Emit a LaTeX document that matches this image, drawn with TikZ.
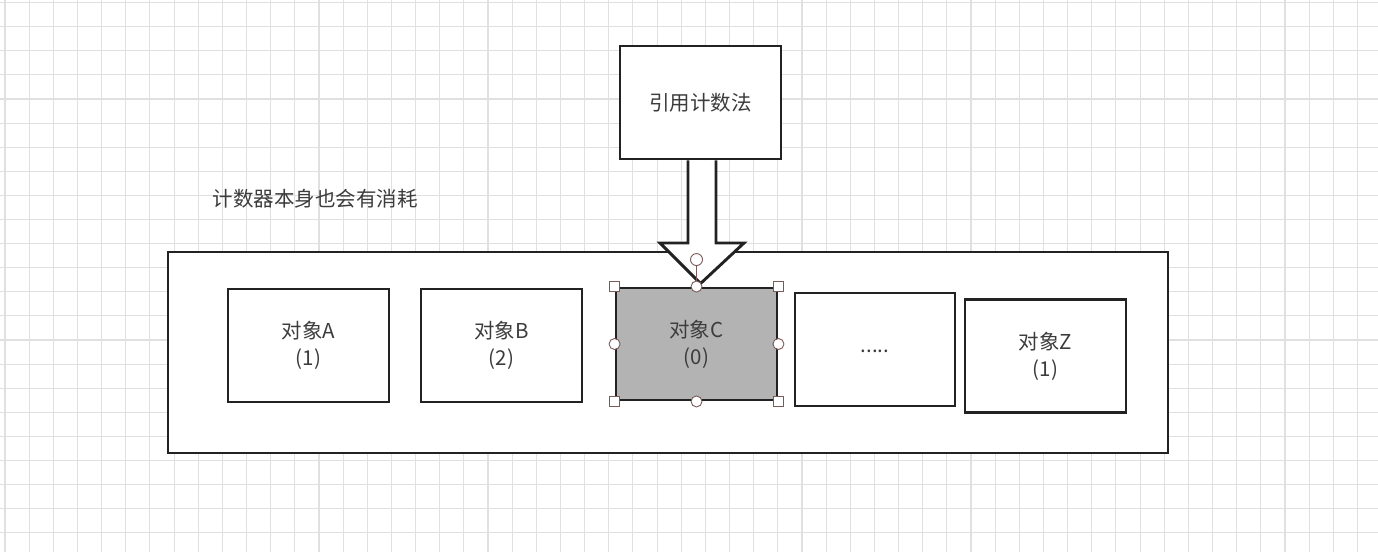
\documentclass[tikz,border=0pt]{standalone}
\usepackage{fontspec}
\setmainfont{Noto Sans CJK SC}
\usetikzlibrary{calc}
\definecolor{gridc}{HTML}{E0E0E0}
\definecolor{txt}{HTML}{3C3C3C}
\definecolor{edge}{HTML}{222222}
\definecolor{selfill}{HTML}{B3B3B3}
\definecolor{handle}{HTML}{7A5A5A}
\tikzset{
  box/.style={draw=edge, line width=2.9pt, fill=white, rectangle, inner sep=0pt,
    minimum width=161pt, minimum height=113pt, font=\fontsize{20.5}{27}\selectfont,
    text=txt, align=center},
  lbl/.style={font=\fontsize{20.5}{27}\selectfont, text=txt},
  sqh/.style={draw=handle, fill=white, line width=0.9pt, rectangle, minimum size=10pt, inner sep=0pt},
  cih/.style={draw=handle, fill=white, line width=0.9pt, circle, minimum size=11pt, inner sep=0pt},
}
\begin{document}
\begin{tikzpicture}[x=1pt,y=-1pt]
\useasboundingbox (0,0) rectangle (1378,552);
\fill[white] (0,0) rectangle (1378,552);
% grid
\foreach \i in {0,...,57} {\draw[gridc, line width=1.1pt] ({5+24.15*\i},0) -- ({5+24.15*\i},552);}
\foreach \j in {0,...,22} {\draw[gridc, line width=1.1pt] (0,{2.6+24.1*\j}) -- (1378,{2.6+24.1*\j});}
% outer container
\node[box, minimum width=1000pt, minimum height=201pt] (outer) at (668,352.5) {};
% title node
\node[box] (method) at (700.5,102.5) {引用计数法};
% objects
\node[box] (objA) at (308.5,345.5) {对象A\\(1)};
\node[box] (objB) at (501.5,345.5) {对象B\\(2)};
\node[box, fill=selfill, minimum height=112pt] (objC) at (696.5,344) {对象C\\(0)};
\node[box, minimum width=160pt] (objD) at (875,349.5) {\raisebox{-6pt}{.....}};
\node[box] (objZ) at (1045.5,356) {对象Z\\(1)};
% note
\node[lbl] (note) at (315,199) {计数器本身也会有消耗};
% block arrow from method to objC
\coordinate (tip) at ($(objC.north)+(4,-3)$);
\coordinate (s1) at ($(method.south)+(-12.5,0)$);
\coordinate (s2) at ($(method.south)+(15.5,0)$);
\draw[edge, line width=2.9pt, fill=white, line join=miter]
  (s1) -- (s1 |- 0,243) -- (660,243) -- (tip) -- (744,243) -- (s2 |- 0,243) -- (s2);
% selection handles
\draw[handle, line width=0.9pt] (objC.north) -- ++(0,-27) coordinate (rot);
\node[cih, minimum size=12pt] (hr) at (rot) {};
\node[sqh] (h1) at (objC.north west) {};
\node[sqh] (h2) at (objC.north east) {};
\node[sqh] (h3) at (objC.south west) {};
\node[sqh] (h4) at (objC.south east) {};
\node[cih] (h5) at (objC.north) {};
\node[cih] (h6) at (objC.south) {};
\node[cih] (h7) at (objC.west) {};
\node[cih] (h8) at (objC.east) {};
\end{tikzpicture}
\end{document}
